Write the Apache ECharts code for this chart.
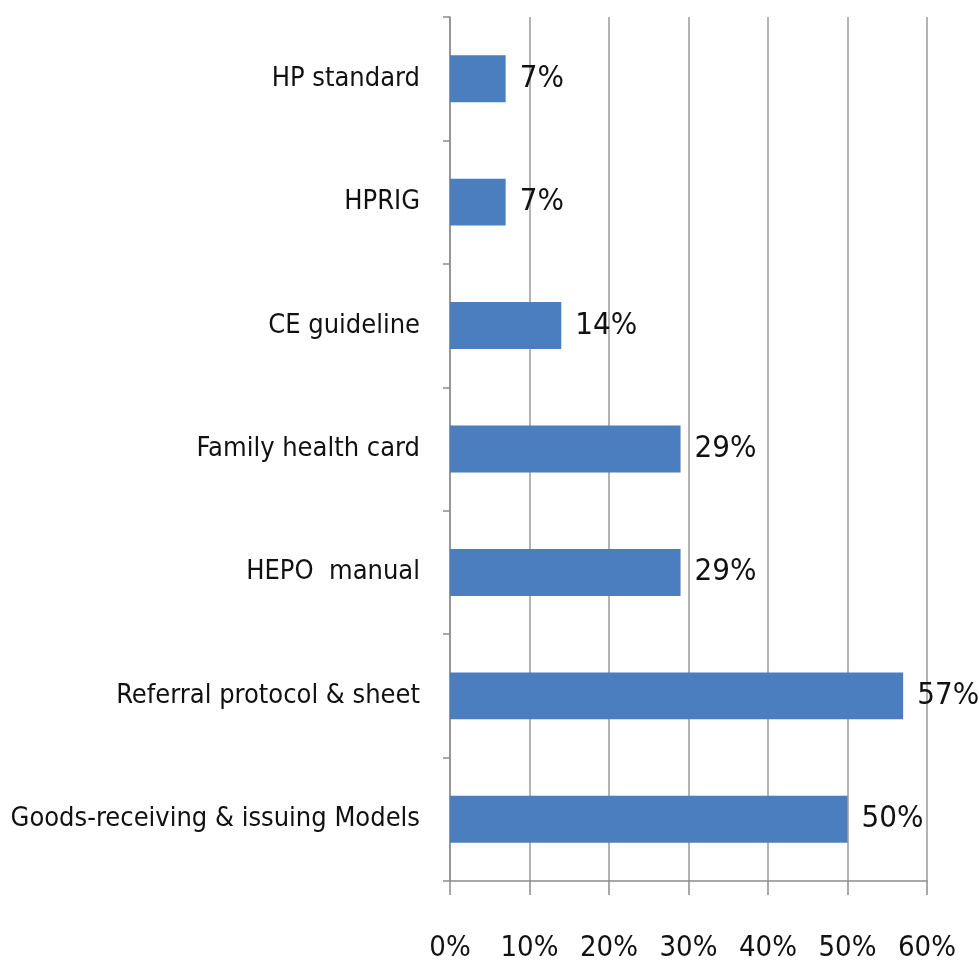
<!DOCTYPE html>
<html>
<head>
<meta charset="utf-8">
<script src="https://cdn.jsdelivr.net/npm/echarts@6/dist/echarts.min.js"></script>
<style>
  html, body { margin: 0; padding: 0; background: #ffffff; }
  #chart { width: 979px; height: 975px; }
</style>
</head>
<body>
<div id="chart"></div>
<script>
const categories = [
  'HP standard',
  'HPRIG',
  'CE guideline',
  'Family health card',
  'HEPO  manual',
  'Referral protocol & sheet',
  'Goods-receiving & issuing Models'
];
const shares = [7, 7, 14, 29, 29, 57, 50];
const xTicks = [0, 10, 20, 30, 40, 50, 60];

const FONT = '"Liberation Sans Narrow", "DejaVu Sans Condensed", sans-serif';
const chart = echarts.init(document.getElementById('chart'), null, { renderer: 'canvas' });

chart.setOption({
  animation: false,
  backgroundColor: '#ffffff',
  grid: { left: 450, right: 52, top: 17, bottom: 94, containLabel: false },
  xAxis: {
    type: 'value',
    min: xTicks[0],
    max: xTicks[xTicks.length - 1],
    interval: 10,
    axisLine: { show: true, lineStyle: { color: '#8c8c8c', width: 1.5 } },
    axisTick: { show: true, length: 14, lineStyle: { color: '#8c8c8c', width: 1.5 } },
    splitLine: { show: true, lineStyle: { color: '#9a9a9a', width: 1.5 } },
    axisLabel: {
      margin: 53,
      fontFamily: FONT,
      fontSize: 29,
      color: '#111111',
      formatter: function (v) { return v + '%'; }
    }
  },
  yAxis: {
    type: 'category',
    inverse: true,
    data: categories,
    axisLine: { show: true, lineStyle: { color: '#8c8c8c', width: 1.5 } },
    axisTick: { show: true, length: 7, lineStyle: { color: '#8c8c8c', width: 1.5 } },
    splitLine: { show: false },
    axisLabel: {
      margin: 30,
      fontFamily: FONT,
      fontSize: 27,
      color: '#111111'
    }
  },
  series: [{
    type: 'bar',
    data: shares,
    barWidth: '38%',
    itemStyle: { color: '#4A7EBF' },
    label: {
      show: true,
      position: 'right',
      distance: 14,
      fontFamily: FONT,
      fontSize: 31,
      color: '#111111',
      formatter: function (p) { return p.value + '%'; }
    }
  }]
});
</script>
</body>
</html>
